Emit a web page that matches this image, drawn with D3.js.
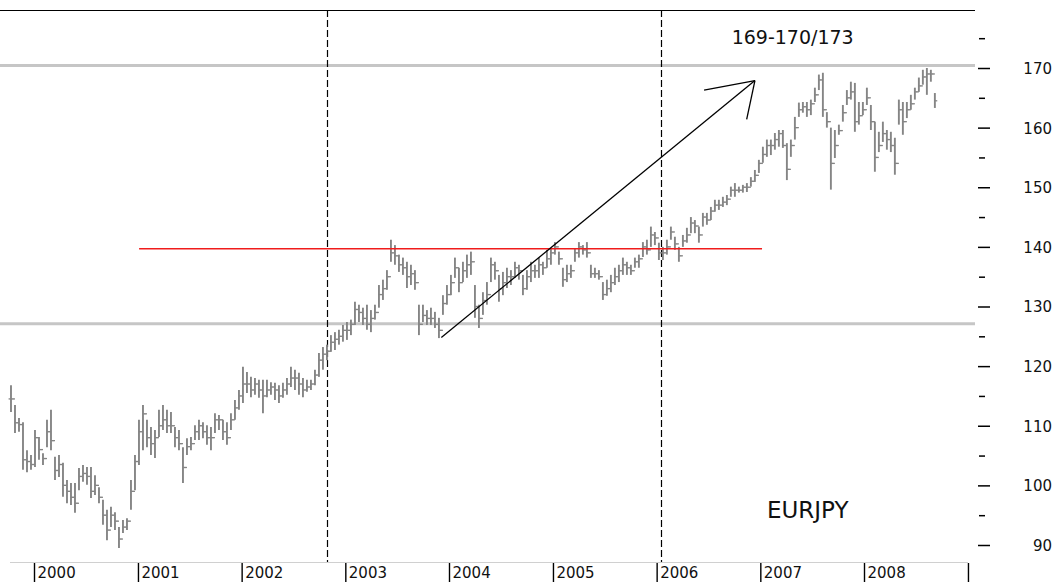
<!DOCTYPE html>
<html>
<head>
<meta charset="utf-8">
<script src="https://cdn.jsdelivr.net/npm/d3@7"></script>
<style>
  html, body { margin: 0; padding: 0; background: #fff; }
  svg { display: block; }
  text { font-family: "DejaVu Sans", Verdana, sans-serif; fill: #111; }
</style>
</head>
<body>
<svg id="chart" width="1054" height="582"></svg>
<script>
// ---- data (EURJPY, bars every ~2 weeks) ----
const firstBarDate = "1999-10-12";
const barStepDays = 14.08;
const highs = [
116.8,113.5,111.3,110.6,105.9,105.1,109.3,108.1,105.4,111.0,
112.7,104.8,105.1,103.8,100.9,100.4,100.4,102.9,103.4,103.1,
103.1,101.7,99.7,97.6,95.9,96.4,95.5,93.0,94.2,94.5,
100.9,105.1,111.0,113.5,111.0,109.8,109.3,112.7,113.5,112.7,
112.3,109.8,109.3,106.4,107.9,108.1,110.1,111.0,110.6,110.1,
109.8,112.1,111.8,111.0,110.6,112.1,114.3,116.0,119.9,119.0,
118.2,118.0,117.7,117.7,117.7,117.3,117.2,116.8,117.2,118.0,
119.9,119.4,118.9,118.0,117.7,117.7,119.4,122.2,123.2,123.6,
125.2,125.7,126.1,126.9,127.4,127.8,130.8,130.3,129.8,130.3,
129.4,130.3,133.6,134.5,136.1,141.2,140.3,138.7,138.2,137.5,
137.0,136.1,130.3,130.3,129.4,129.8,129.1,128.1,131.9,133.6,
135.3,138.2,136.5,137.5,138.7,139.2,133.6,130.3,132.4,134.1,
138.2,137.5,135.3,135.8,136.5,136.1,137.5,137.0,135.3,136.1,
137.5,137.0,138.2,137.5,139.5,139.8,140.8,139.2,136.5,137.0,
137.0,139.8,140.8,140.3,140.8,137.0,136.5,136.1,134.1,134.5,
135.3,136.5,137.0,138.2,137.5,137.0,138.2,138.7,140.8,141.2,
143.4,142.5,140.7,140.0,141.2,143.4,141.7,140.0,142.0,143.2,
145.0,144.5,143.4,145.7,145.7,146.7,147.9,147.9,148.4,148.7,
150.1,150.7,150.1,150.4,150.7,151.7,152.9,154.6,156.8,158.0,
158.0,159.1,159.6,159.6,157.4,158.0,161.8,164.2,164.3,164.3,
164.7,166.7,168.9,169.2,162.6,160.0,159.6,160.5,163.8,166.3,
167.7,167.5,164.3,164.3,166.7,163.8,161.0,159.3,161.0,159.6,
159.3,158.3,164.7,164.3,164.3,165.5,166.7,168.4,169.7,170.0,
169.7,165.8];
const lows = [
112.3,108.8,109.0,102.6,102.2,102.6,103.1,104.3,103.4,106.4,
105.9,100.9,101.4,98.1,97.0,96.7,95.4,99.2,100.6,100.1,
97.9,98.4,97.0,93.4,90.8,93.0,92.5,89.5,92.0,92.5,
95.9,99.2,103.4,105.9,106.4,105.1,104.6,108.1,109.3,108.8,
108.8,106.4,105.9,100.4,105.1,105.9,107.6,107.6,107.9,106.8,
105.9,108.8,109.3,107.6,106.8,109.3,111.0,112.7,113.8,115.5,
114.8,115.2,114.7,112.1,114.8,115.2,114.3,113.8,114.7,115.2,
116.5,116.0,115.2,114.8,115.7,116.0,116.8,118.2,119.4,121.0,
122.4,122.7,123.6,124.1,124.4,125.2,126.9,127.4,126.9,126.1,
125.7,127.8,129.8,131.1,132.8,137.5,137.0,135.8,135.3,133.1,
133.6,132.8,125.2,127.4,126.9,126.9,126.4,124.7,128.6,130.3,
131.9,134.8,132.4,134.1,134.8,135.3,128.1,126.4,128.6,130.3,
134.1,134.5,130.8,131.9,133.1,133.6,134.8,134.5,131.9,132.8,
134.1,134.8,134.8,135.3,136.5,137.0,138.7,137.0,133.3,134.1,
134.8,137.5,138.2,138.7,138.2,134.8,134.8,134.5,131.1,131.8,
132.4,133.6,134.1,135.3,135.3,135.3,136.5,136.5,138.3,138.7,
140.0,140.3,137.8,137.8,138.7,141.2,139.5,137.5,140.0,140.7,
142.3,142.3,140.7,143.4,143.7,144.5,145.9,146.2,146.7,147.0,
148.4,148.4,149.1,149.1,149.2,150.1,150.9,152.4,154.1,155.1,
155.4,156.3,156.8,156.6,151.2,155.1,158.0,161.8,162.5,161.8,
162.1,164.3,166.3,161.8,160.0,149.6,154.9,158.8,161.0,163.8,
164.7,159.3,160.5,162.1,163.8,159.6,152.6,155.9,157.6,156.3,
155.9,152.1,160.5,158.8,161.6,163.0,164.7,166.0,167.2,165.5,
167.7,163.3];
const closes = [
114.5,110.5,110.2,104.3,104.0,103.5,108.0,106.0,104.5,109.0,
107.5,102.5,103.5,100.0,99.0,98.0,97.0,101.5,102.0,101.5,
99.0,100.0,98.0,95.0,92.5,95.0,94.0,91.0,93.0,94.0,
99.0,104.0,109.0,112.0,108.0,107.0,108.0,110.0,111.0,110.0,
110.0,108.0,107.0,103.0,106.5,107.0,109.0,110.0,109.0,108.0,
108.0,111.0,111.0,109.0,108.0,111.0,113.0,115.0,117.0,117.0,
116.0,117.0,116.0,115.0,116.0,116.5,116.0,115.0,116.0,117.0,
118.0,118.0,117.0,116.0,116.5,117.0,118.5,121.0,122.0,122.5,
124.0,124.5,125.0,126.0,126.0,127.0,129.5,129.0,128.0,127.0,
128.0,129.0,132.0,133.0,135.0,139.0,138.5,137.0,136.5,135.0,
135.5,134.0,127.0,128.5,128.0,128.0,127.0,126.0,130.5,132.0,
134.0,136.5,134.0,136.0,137.0,137.5,130.0,128.0,131.0,132.0,
137.0,136.0,133.0,134.0,135.0,135.0,136.5,136.0,133.0,135.0,
136.0,136.0,137.0,136.5,138.0,139.0,140.0,138.0,134.5,135.5,
136.0,139.0,140.0,139.5,139.0,135.5,135.5,135.0,132.0,133.0,
134.0,135.0,136.0,137.0,136.5,136.0,137.5,138.0,140.0,139.5,
142.0,141.5,139.0,139.0,140.0,142.5,140.5,138.5,141.0,142.0,
144.0,143.5,142.0,145.0,144.5,146.0,147.0,147.0,147.5,148.0,
149.5,149.5,149.5,150.0,150.0,151.0,152.0,154.0,155.5,157.0,
157.0,158.0,159.0,157.0,153.0,157.0,160.0,163.0,163.5,163.0,
164.0,165.5,168.0,163.0,161.0,154.0,157.0,159.5,162.5,165.0,
166.0,161.0,162.0,163.0,165.0,161.0,155.0,157.0,159.0,158.0,
157.0,154.0,163.0,161.0,163.0,164.0,166.0,167.0,168.5,169.0,
169.0,164.5];

const yearTicks = [2000,2001,2002,2003,2004,2005,2006,2007,2008,2009];
const yearLabels = ["2000","2001","2002","2003","2004","2005","2006","2007","2008",""];
const priceTicks = [90,100,110,120,130,140,150,160,170];
const priceMinorTicks = [95,105,115,125,135,145,155,165,175];

// annotations
const supportLevels = [170.4, 127.1];          // grey horizontal lines
const resistance = {from: "2001-01-05", to: "2007-01-07", level: 139.7};
const cycleDates = ["2002-10-27", "2006-01-16"]; // dashed verticals
const arrowStart = {date: "2003-12-05", price: 124.8};
const arrowTip   = {date: "2006-12-13", price: 167.9};
const arrowBarbs = [{date: "2006-06-17", price: 166.3}, {date: "2006-11-14", price: 161.4}];
const targetText = "169-170/173";
const targetPos = {date: "2007-04-25", price: 174.0};
const symbolText = "EURJPY";
const symbolPos = {date: "2007-06-17", price: 94.5};

// ---- drawing ----
const W = 1054, H = 582;
const svg = d3.select("#chart");
svg.append("rect").attr("width", W).attr("height", H).attr("fill", "#fff");

const x = d3.scaleTime()
  .domain([new Date(2000, 0, 1), new Date(2008, 0, 1)])
  .range([34, 864]);
const y = d3.scaleLinear().domain([90, 170]).range([545, 68]);
const parse = d3.timeParse("%Y-%m-%d");

const t0 = parse(firstBarDate).getTime();
const bars = highs.map((h, i) => ({
  date: new Date(t0 + i * barStepDays * 86400000),
  high: h, low: lows[i], close: closes[i],
  open: i > 0 ? closes[i - 1] : closes[i]
}));

const plotLeft = 0, plotRight = 975, plotTop = 10, plotBottom = 562;

// top frame line
svg.append("line").attr("x1", plotLeft).attr("x2", plotRight)
  .attr("y1", plotTop + 0.5).attr("y2", plotTop + 0.5)
  .attr("stroke", "#000").attr("stroke-width", 1);

// grey support lines
svg.selectAll("line.support").data(supportLevels).enter().append("line")
  .attr("class", "support")
  .attr("x1", plotLeft).attr("x2", plotRight)
  .attr("y1", d => y(d)).attr("y2", d => y(d))
  .attr("stroke", "#c6c6c6").attr("stroke-width", 3);

// bottom axis baseline (light grey)
svg.append("line").attr("x1", 10).attr("x2", x(new Date(2009, 0, 1)))
  .attr("y1", plotBottom + 0.5).attr("y2", plotBottom + 0.5)
  .attr("stroke", "#d0d0d0").attr("stroke-width", 1);

// dashed vertical lines
svg.selectAll("line.cycle").data(cycleDates).enter().append("line")
  .attr("class", "cycle")
  .attr("x1", d => Math.round(x(parse(d))) + 0.5).attr("x2", d => Math.round(x(parse(d))) + 0.5)
  .attr("y1", plotTop).attr("y2", plotBottom)
  .attr("stroke", "#000").attr("stroke-width", 1.2)
  .attr("stroke-dasharray", "7,3");

// OHLC bars
const barG = svg.append("g").attr("stroke", "#858585").attr("stroke-width", 1.9);
bars.forEach(b => {
  const cx = x(b.date);
  barG.append("line").attr("x1", cx).attr("x2", cx).attr("y1", y(b.high)).attr("y2", y(b.low));
  barG.append("line").attr("x1", cx - 2.4).attr("x2", cx).attr("y1", y(b.open)).attr("y2", y(b.open)).attr("stroke-width", 1.3);
  barG.append("line").attr("x1", cx).attr("x2", cx + 2.4).attr("y1", y(b.close)).attr("y2", y(b.close)).attr("stroke-width", 1.3);
});

// red resistance line
svg.append("line")
  .attr("x1", x(parse(resistance.from))).attr("x2", x(parse(resistance.to)))
  .attr("y1", y(resistance.level)).attr("y2", y(resistance.level))
  .attr("stroke", "#f01c1c").attr("stroke-width", 1.5);

// arrow
const tip = [x(parse(arrowTip.date)), y(arrowTip.price)];
svg.append("line")
  .attr("x1", x(parse(arrowStart.date))).attr("y1", y(arrowStart.price))
  .attr("x2", tip[0]).attr("y2", tip[1])
  .attr("stroke", "#000").attr("stroke-width", 1.3);
arrowBarbs.forEach(b => {
  svg.append("line").attr("x1", tip[0]).attr("y1", tip[1])
    .attr("x2", x(parse(b.date))).attr("y2", y(b.price))
    .attr("stroke", "#000").attr("stroke-width", 1.3);
});

// texts
svg.append("text").attr("x", x(parse(targetPos.date))).attr("y", y(targetPos.price))
  .attr("text-anchor", "middle").style("font-size", "19px").text(targetText);
svg.append("text").attr("x", x(parse(symbolPos.date))).attr("y", y(symbolPos.price))
  .attr("text-anchor", "middle").style("font-size", "23px").text(symbolText);

// right price axis
const yAxisX = 978;
const yAx = svg.append("g").attr("transform", `translate(${yAxisX},0)`)
  .call(d3.axisRight(y).tickValues(priceTicks).tickSize(12).tickFormat(d3.format("d")));
yAx.select(".domain").remove();
yAx.selectAll(".tick line").attr("stroke", "#000").attr("stroke-width", 1.5);
yAx.selectAll(".tick text").attr("x", 1052 - yAxisX).attr("text-anchor", "end")
  .attr("dy", "0.36em").style("font-size", "15px").style("font-family", "DejaVu Sans").attr("fill", "#111");

const yMin = svg.append("g").attr("transform", `translate(${yAxisX + 1},0)`)
  .call(d3.axisRight(y).tickValues(priceMinorTicks).tickSize(6).tickFormat(""));
yMin.select(".domain").remove();
yMin.selectAll(".tick line").attr("stroke", "#000").attr("stroke-width", 1.5);

// bottom year axis
const xAx = svg.append("g").attr("transform", `translate(0,${plotBottom + 1})`)
  .call(d3.axisBottom(x)
    .tickValues(yearTicks.map(yy => new Date(yy, 0, 1)))
    .tickSize(19)
    .tickFormat((d, i) => yearLabels[i]));
xAx.select(".domain").remove();
xAx.selectAll(".tick line").attr("stroke", "#000").attr("stroke-width", 1.4);
xAx.selectAll(".tick text").attr("x", 3).attr("y", 15).attr("dy", "0")
  .attr("text-anchor", "start").style("font-size", "15px")
  .style("font-family", "DejaVu Sans").attr("fill", "#111");
</script>
</body>
</html>
